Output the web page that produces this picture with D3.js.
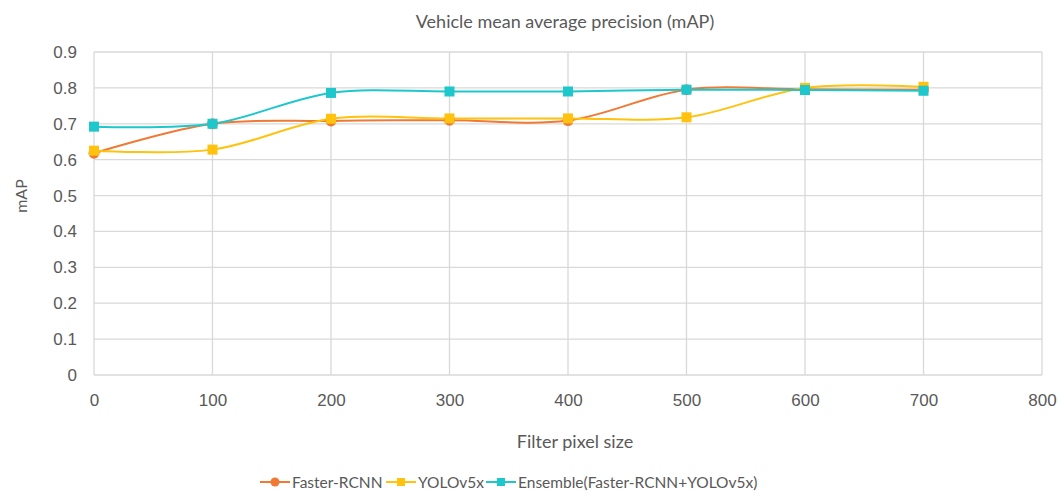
<!DOCTYPE html>
<html>
<head>
<meta charset="utf-8">
<script src="https://cdn.jsdelivr.net/npm/d3@7"></script>
<style>
  html, body { margin: 0; padding: 0; background: #fff; }
  svg { display: block; font-family: Lato, "Open Sans", sans-serif; }
</style>
</head>
<body>
<svg id="chart" width="1060" height="492"></svg>
<script>
// Filter pixel sizes along the x axis
const filterSizes = [0, 100, 200, 300, 400, 500, 600, 700];

// mAP per detector
const fasterRcnn = [0.618, 0.700, 0.708, 0.710, 0.709, 0.795, 0.796, 0.795];
const yolov5x    = [0.625, 0.628, 0.714, 0.715, 0.715, 0.718, 0.800, 0.803];
const ensemble   = [0.692, 0.700, 0.786, 0.790, 0.790, 0.795, 0.794, 0.792];

const seriesNames = ["Faster-RCNN", "YOLOv5x", "Ensemble(Faster-RCNN+YOLOv5x)"];
const xTicks = [0, 100, 200, 300, 400, 500, 600, 700, 800];
const yTicks = [0, 0.1, 0.2, 0.3, 0.4, 0.5, 0.6, 0.7, 0.8, 0.9];

const series = [
  { name: seriesNames[0], values: fasterRcnn, color: "#F07A35", marker: "circle" },
  { name: seriesNames[1], values: yolov5x,    color: "#FFC20E", marker: "square" },
  { name: seriesNames[2], values: ensemble,   color: "#1DC7CC", marker: "square" }
];

const svg = d3.select("#chart");
const margin = { left: 94, right: 18, top: 52, bottom: 117 };
const W = 1060, H = 492;

const x = d3.scaleLinear().domain([0, 800]).range([margin.left, W - margin.right]);
const y = d3.scaleLinear().domain([0, 0.9]).range([H - margin.bottom, margin.top]);

const textColor = "#595959";
const gridColor = "#D9D9D9";

// Gridlines
svg.append("g")
  .selectAll("line.h")
  .data(yTicks)
  .join("line")
  .attr("x1", x(0)).attr("x2", x(800))
  .attr("y1", d => y(d)).attr("y2", d => y(d))
  .attr("stroke", gridColor).attr("stroke-width", 1.3);

svg.append("g")
  .selectAll("line.v")
  .data(xTicks)
  .join("line")
  .attr("x1", d => x(d)).attr("x2", d => x(d))
  .attr("y1", y(0)).attr("y2", y(0.9))
  .attr("stroke", gridColor).attr("stroke-width", 1.3);

// Axes (labels only; lines come from the grid)
const yAxis = svg.append("g")
  .attr("transform", `translate(${x(0)},0)`)
  .call(d3.axisLeft(y).tickValues(yTicks).tickSize(0).tickPadding(17)
    .tickFormat(d => d === 0 ? "0" : d3.format(".1f")(d)));
yAxis.select(".domain").remove();
yAxis.selectAll("text").attr("fill", textColor).style("font-size", "17px");

const xAxis = svg.append("g")
  .attr("transform", `translate(0,${y(0)})`)
  .call(d3.axisBottom(x).tickValues(xTicks).tickSize(0).tickPadding(19)
    .tickFormat(d3.format("d")));
xAxis.select(".domain").remove();
xAxis.selectAll("text").attr("fill", textColor).style("font-size", "17px");

// Title and axis titles
svg.append("text")
  .attr("x", 565).attr("y", 28)
  .attr("text-anchor", "middle").attr("fill", textColor)
  .style("font-size", "18px")
  .text("Vehicle mean average precision (mAP)");

svg.append("text")
  .attr("x", 575).attr("y", 448)
  .attr("text-anchor", "middle").attr("fill", textColor)
  .style("font-size", "18px")
  .text("Filter pixel size");

svg.append("text")
  .attr("transform", "translate(27,196) rotate(-90)")
  .attr("text-anchor", "middle").attr("fill", textColor)
  .style("font-size", "16px")
  .text("mAP");

// Smoothed series lines
const line = d3.line()
  .x((d, i) => x(filterSizes[i]))
  .y(d => y(d))
  .curve(d3.curveCatmullRom.alpha(0.5));

const lines = svg.append("g");
series.forEach(s => {
  lines.append("path")
    .datum(s.values)
    .attr("fill", "none")
    .attr("stroke", s.color)
    .attr("stroke-width", 2)
    .attr("d", line);
});

// Markers
function drawMarker(g, type, cx, cy, color, size) {
  if (type === "circle") {
    g.append("circle").attr("cx", cx).attr("cy", cy).attr("r", size / 2 + 0.5).attr("fill", color);
  } else {
    g.append("rect").attr("x", cx - size / 2).attr("y", cy - size / 2)
      .attr("width", size).attr("height", size).attr("fill", color);
  }
}

const marks = svg.append("g");
series.forEach(s => {
  s.values.forEach((v, i) => drawMarker(marks, s.marker, x(filterSizes[i]), y(v), s.color, 10));
});

// Legend
const legendY = 482;
const legendX = [260, 386, 486];
const legend = svg.append("g");
series.forEach((s, i) => {
  const lx = legendX[i];
  legend.append("line")
    .attr("x1", lx).attr("x2", lx + 30)
    .attr("y1", legendY).attr("y2", legendY)
    .attr("stroke", s.color).attr("stroke-width", 2);
  drawMarker(legend, s.marker, lx + 15, legendY, s.color, 8);
  legend.append("text")
    .attr("x", lx + 32).attr("y", legendY + 6)
    .attr("fill", textColor).style("font-size", "15.5px")
    .text(s.name);
});
</script>
</body>
</html>
